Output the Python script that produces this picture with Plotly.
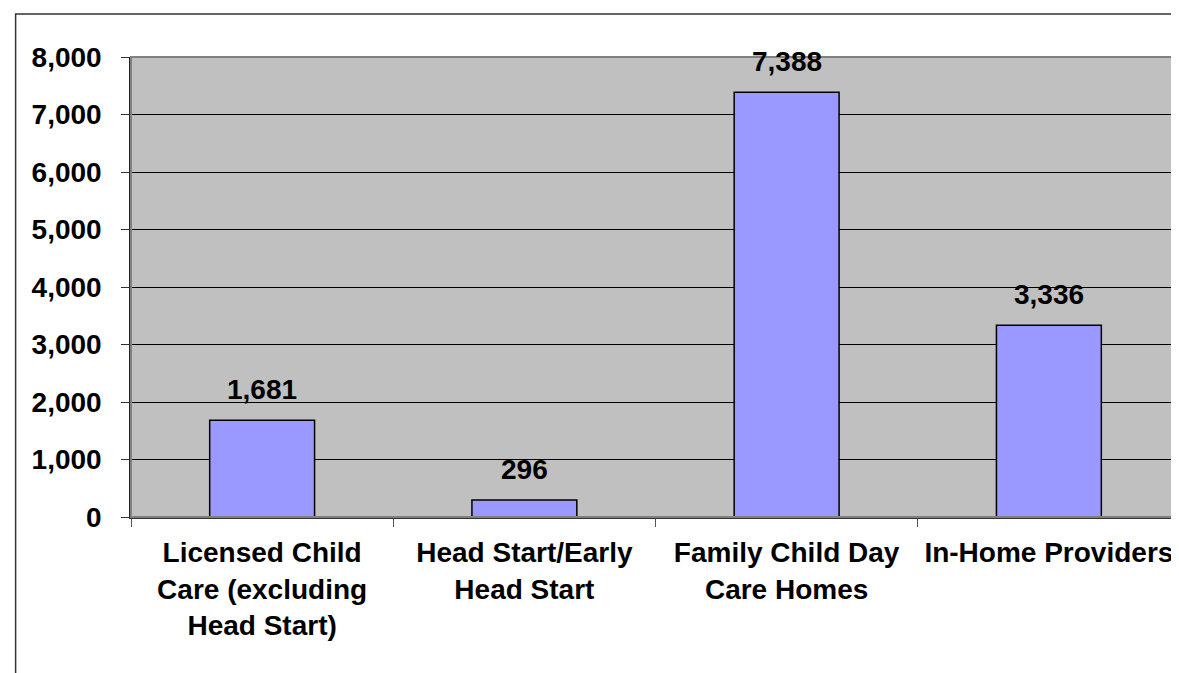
import plotly.graph_objects as go

categories = [
    "Licensed Child<br>Care (excluding<br>Head Start)",
    "Head Start/Early<br>Head Start",
    "Family Child Day<br>Care Homes",
    "In-Home Providers",
]
counts = [1681, 296, 7388, 3336]
y_ticks = [0, 1000, 2000, 3000, 4000, 5000, 6000, 7000, 8000]

FONT = "Liberation Sans, Arial, sans-serif"

fig = go.Figure(
    go.Bar(
        x=categories,
        y=counts,
        marker=dict(color="#9999FF", line=dict(color="black", width=1.5)),
        width=0.4,
        showlegend=False,
        hoverinfo="skip",
    )
)

for cat, val in zip(categories, counts):
    fig.add_annotation(
        x=cat, y=val, text=f"{val:,}", showarrow=False,
        yanchor="bottom", yshift=13,
        font=dict(family=FONT, size=28, color="black", weight="bold"),
    )

# plot area border (top/right in gray)
fig.add_shape(type="rect", xref="paper", yref="paper", x0=0, x1=1, y0=0, y1=1,
              line=dict(color="#808080", width=2), layer="above")
# outer chart border
fig.add_shape(type="rect", xref="paper", yref="paper", x0=-0.11, x1=1.2, y0=-0.5, y1=1.0935,
              line=dict(color="#333333", width=1.5), layer="above")

fig.update_xaxes(
    showline=True, linecolor="#333333", linewidth=1.5,
    ticks="outside", tickson="boundaries", ticklen=8, tickcolor="#555555",
    showgrid=False, ticklabelstandoff=10,
    tickfont=dict(family=FONT, size=28, color="black", weight="bold"),
)
fig.update_yaxes(
    range=[0, 8000], tickvals=y_ticks, tickformat=",",
    showline=True, linecolor="#222222", linewidth=1.5,
    ticks="outside", ticklen=8, tickcolor="#333333",
    showgrid=True, gridcolor="black", gridwidth=1, zeroline=False,
    ticklabelstandoff=14,
    tickfont=dict(family=FONT, size=28, color="black", weight="bold"),
)
fig.update_layout(
    width=1179, height=673,
    margin=dict(l=123, r=7, t=49, b=164),
    plot_bgcolor="#C0C0C0", paper_bgcolor="white",
    bargap=0.6,
)
fig.write_html("out.html")
